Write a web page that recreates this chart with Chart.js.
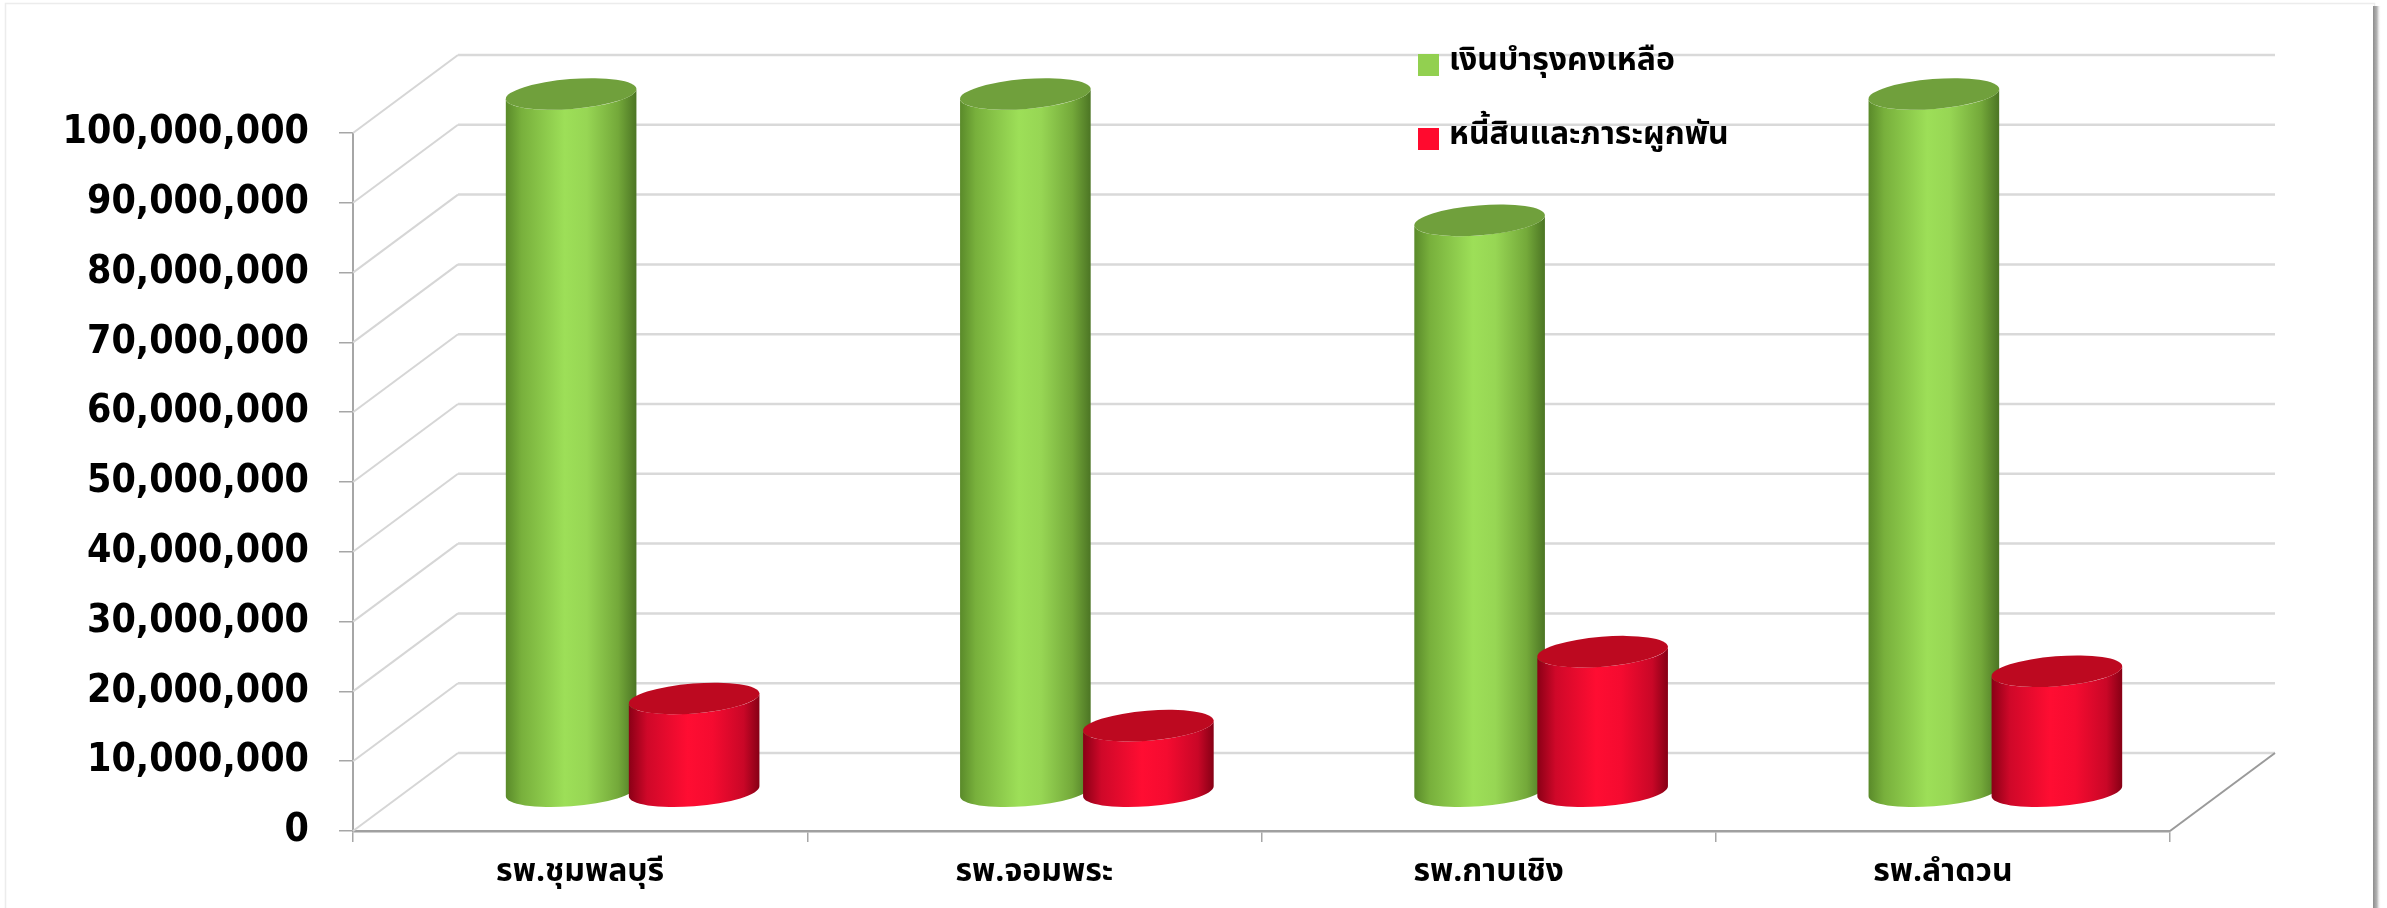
<!DOCTYPE html>
<html><head><meta charset="utf-8">
<script src="https://cdn.jsdelivr.net/npm/chart.js@4.4.1/dist/chart.umd.min.js"></script>
<style>html,body{margin:0;padding:0;background:#fff;}canvas{display:block}</style>
</head><body>
<canvas id="c" width="2387" height="908"></canvas>
<script>
// ---- data ----
const categories = ['รพ.ชุมพลบุรี', 'รพ.จอมพระ', 'รพ.กาบเชิง', 'รพ.ลำดวน'];
const seriesNames = ['เงินบำรุงคงเหลือ', 'หนี้สินและภาระผูกพัน'];
const fundBalance = [100000000, 100000000, 81900000, 100000000];
const liabilities = [13400000, 9500000, 20100000, 17300000];
const yTicks = [0, 10000000, 20000000, 30000000, 40000000, 50000000, 60000000, 70000000, 80000000, 90000000, 100000000];

// ---- styles ----
const THAI = "'Tahoma','Noto Sans Thai','Noto Sans Thai UI','Loma','Garuda','Norasi','Waree','Kinnari','DejaVu Sans',sans-serif";
const NUMF = "'DejaVu Sans Condensed','DejaVu Sans',sans-serif";
const DX = 105, DY = -78;   // 3D depth offset
const legendColors = ['#92d050', '#ff0a2e'];
const bodyStops = [
  [[0, '#5a8a2a'], [0.12, '#78b03c'], [0.45, '#9ddf58'], [0.62, '#97d654'], [0.86, '#74a93a'], [1, '#4c7524']],
  [[0, '#8a0016'], [0.14, '#cf0829'], [0.45, '#ff0d32'], [0.64, '#f50b30'], [0.88, '#c90727'], [1, '#860015']]
];
const topColors = ['#70a03c', '#bd0920'];

function cylinder(ctx, cx, yTop, yBase, rx, ry, phi, stops, topColor) {
  const t0 = Math.atan2(-(ry * Math.sin(phi)), rx * Math.cos(phi));
  const ex = rx * Math.cos(t0) * Math.cos(phi) - ry * Math.sin(t0) * Math.sin(phi);
  const ey = rx * Math.cos(t0) * Math.sin(phi) + ry * Math.sin(t0) * Math.cos(phi);
  const g = ctx.createLinearGradient(cx - ex, 0, cx + ex, 0);
  stops.forEach(s => g.addColorStop(s[0], s[1]));
  ctx.beginPath();
  ctx.moveTo(cx - ex, yTop - ey);
  ctx.lineTo(cx - ex, yBase - ey);
  ctx.ellipse(cx, yBase, rx, ry, phi, Math.PI + t0, t0, true);
  ctx.lineTo(cx + ex, yTop + ey);
  ctx.ellipse(cx, yTop, rx, ry, phi, t0, Math.PI + t0, false);
  ctx.closePath();
  ctx.fillStyle = g;
  ctx.fill();
  ctx.beginPath();
  ctx.ellipse(cx, yTop, rx, ry, phi, 0, Math.PI * 2);
  ctx.fillStyle = topColor;
  ctx.fill();
}

const framePlugin = {
  id: 'frame',
  beforeDraw(chart) {
    const ctx = chart.ctx;
    ctx.save();
    ctx.fillStyle = '#ffffff';
    ctx.fillRect(0, 0, chart.width, chart.height);
    ctx.strokeStyle = '#ececec';
    ctx.lineWidth = 1.5;
    ctx.strokeRect(5.5, 3.5, 2369, 920);
    const g = ctx.createLinearGradient(2373, 0, 2381, 0);
    g.addColorStop(0, '#8c8c8c');
    g.addColorStop(0.5, '#b5b5b5');
    g.addColorStop(1, 'rgba(255,255,255,0)');
    ctx.fillStyle = g;
    ctx.fillRect(2373, 6, 8, 910);
    ctx.restore();
  }
};

const wallsPlugin = {
  id: 'walls',
  beforeDatasetsDraw(chart) {
    const ctx = chart.ctx, a = chart.chartArea, ys = chart.scales.y;
    ctx.save();
    // side wall diagonals
    ctx.strokeStyle = '#d6d6d6';
    ctx.lineWidth = 2;
    yTicks.forEach(v => {
      const y = ys.getPixelForValue(v);
      ctx.beginPath();
      ctx.moveTo(a.left, y);
      ctx.lineTo(a.left + DX, y + DY);
      ctx.stroke();
    });
    // back wall gridlines
    ctx.strokeStyle = '#d9d9d9';
    ctx.lineWidth = 2.5;
    yTicks.forEach(v => {
      const y = ys.getPixelForValue(v) + DY;
      ctx.beginPath();
      ctx.moveTo(a.left + DX, y);
      ctx.lineTo(a.right + DX, y);
      ctx.stroke();
    });
    // floor right edge
    ctx.strokeStyle = '#9a9a9a';
    ctx.lineWidth = 2;
    ctx.beginPath();
    ctx.moveTo(a.right, a.bottom);
    ctx.lineTo(a.right + DX, a.bottom + DY);
    ctx.stroke();
    ctx.restore();
  },
  afterDatasetsDraw(chart) {
    const ctx = chart.ctx;
    ctx.save();
    const metas = chart.data.datasets.map((d, i) => chart.getDatasetMeta(i));
    for (let k = 0; k < categories.length; k++) {
      metas.forEach((meta, di) => {
        const el = meta.data[k];
        const p = el.getProps(['x', 'y', 'base', 'width'], true);
        const rx = p.width * 1.065 / 2;
        cylinder(ctx, p.x + DX / 2, p.y + DY / 2, p.base + DY / 2, rx, 15, -0.08, bodyStops[di], topColors[di]);
      });
    }
    // legend
    ctx.textBaseline = 'middle';
    ctx.textAlign = 'left';
    ctx.font = 'bold 32px ' + THAI;
    ctx.fillStyle = '#000';
    seriesNames.forEach((name, i) => {
      const y = 54 + i * 74;
      ctx.fillStyle = legendColors[i];
      ctx.fillRect(1418, y, 21, 22);
      ctx.fillStyle = '#000';
      ctx.fillText(name, 1449, y + 10);
    });
    ctx.restore();
  }
};

new Chart(document.getElementById('c'), {
  type: 'bar',
  data: {
    labels: categories,
    datasets: [
      { label: seriesNames[0], data: fundBalance, backgroundColor: 'rgba(0,0,0,0)', borderWidth: 0 },
      { label: seriesNames[1], data: liabilities, backgroundColor: 'rgba(0,0,0,0)', borderWidth: 0 }
    ]
  },
  options: {
    responsive: false,
    animation: false,
    devicePixelRatio: 1,
    categoryPercentage: 0.5416,
    barPercentage: 1,
    layout: { padding: { left: 0, right: 217, top: 133, bottom: 0 } },
    plugins: { legend: { display: false }, tooltip: { enabled: false } },
    scales: {
      x: {
        afterFit(s) { s.height = 77; },
        grid: { display: true, drawOnChartArea: false, drawTicks: true, tickLength: 11, color: '#a6a6a6', lineWidth: 1.5, offset: true },
        border: { display: true, color: '#a0a0a0', width: 2.5 },
        ticks: { color: '#000', padding: 13, font: { family: THAI, size: 32, weight: 'bold' } }
      },
      y: {
        min: 0, max: 100000000,
        afterFit(s) { s.width = 353; },
        afterBuildTicks(s) { s.ticks = yTicks.map(v => ({ value: v })); },
        grid: { display: true, drawOnChartArea: false, drawTicks: true, tickLength: 14, color: '#a6a6a6', lineWidth: 1.5 },
        border: { display: true, color: '#a6a6a6', width: 2 },
        ticks: {
          color: '#000', padding: 30, autoSkip: false,
          font: { family: NUMF, size: 39, weight: 'bold' },
          callback: v => Number(v).toLocaleString('en-US')
        }
      }
    }
  },
  plugins: [framePlugin, wallsPlugin]
});
</script>
</body></html>
